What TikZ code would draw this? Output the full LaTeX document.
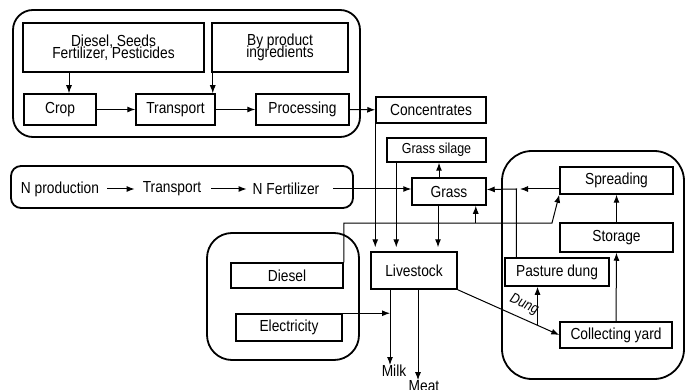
\documentclass[tikz,border=0pt]{standalone}
\usepackage{fontspec}
\setmainfont{Liberation Sans}[FakeStretch=0.86]
\usetikzlibrary{arrows.meta}

\tikzset{
  stage/.style={draw, line width=1.5pt, inner sep=0pt, align=center},
  label/.style={inner sep=0pt},
  group/.style={line width=1.8pt, rounded corners=#1},
  flow/.style={line width=1pt, -{Latex[length=8pt,width=6pt]}},
  feed/.style={flow, shorten >=4pt}
}

\begin{document}
\begin{tikzpicture}[x=1pt, y=-1pt, font=\fontsize{16}{15}\selectfont]
\useasboundingbox (0,0) rectangle (685,390);

% groups
\draw[group=20pt] (13,10) rectangle (360,137);
\draw[group=10pt] (11,166) rectangle (353,208);
\draw[group=25pt] (207,233) rectangle (359,360);
\draw[group=30pt] (502,151) rectangle (684,379);

% feed production
\node[stage, minimum width=181, minimum height=49] (inputs) at (113.5,47.5) {Diesel, Seeds\\[-3pt]Fertilizer, Pesticides};
\node[stage, minimum width=136, minimum height=49] (byprod) at (280,47.5) {By product\\[-3pt]ingredients};
\node[stage, minimum width=72, minimum height=31] (crop) at (60,109.5) {Crop};
\node[stage, minimum width=79, minimum height=31] (transport) at (175.5,109.5) {Transport};
\node[stage, minimum width=93, minimum height=31] (processing) at (302.5,109.5) {Processing};
\node[stage, minimum width=110, minimum height=26] (conc) at (431,110) {Concentrates};

% fertilizer chain
\node[label] (nprod) at (60,189) {N production};
\node[label] (ntrans) at (172,189) {Transport};
\node[label] (nfert) at (286,189) {N Fertilizer};

% farm
\node[stage, minimum width=99, minimum height=24, font=\fontsize{14.5}{14}\selectfont] (silage) at (436.5,150) {Grass silage};
\node[stage, minimum width=74, minimum height=27] (grass) at (449,191.5) {Grass};
\node[stage, minimum width=86, minimum height=37] (livestock) at (414,270.5) {Livestock};
\node[stage, minimum width=112, minimum height=25] (diesel) at (287,275.5) {Diesel};
\node[stage, minimum width=106, minimum height=27] (elec) at (289,327.5) {Electricity};
\node[label] (milk) at (394,371) {Milk};
\node[label] (meat) at (424,386) {Meat};

% manure handling
\node[stage, minimum width=113, minimum height=27] (spread) at (616.5,180.5) {Spreading};
\node[stage, minimum width=113, minimum height=29] (storage) at (616.5,237.5) {Storage};
\node[stage, minimum width=104, minimum height=28] (pasture) at (557,272) {Pasture dung};
\node[stage, minimum width=112, minimum height=26] (yard) at (616,335) {Collecting yard};

\coordinate (kink) at (552,223);
\coordinate (join) at (517,189);
\coordinate (milkline) at ([xshift=-24pt]livestock.south);
\coordinate (meatline) at ([xshift=4pt]livestock.south);

% arrows, top group
\draw[flow] ([xshift=9pt]crop.north |- inputs.south) -- ([xshift=9pt]crop.north);
\draw[flow] ([xshift=-3pt]transport.north east |- byprod.south) -- ([xshift=-3pt]transport.north east);
\draw[flow] (crop) -- (transport);
\draw[flow] (transport) -- (processing);
\draw[flow] (processing) -- (conc);

% N fertilizer row
\draw[flow] ([xshift=8pt]nprod.east) -- ([xshift=-8pt]ntrans.west);
\draw[flow] ([xshift=10pt]ntrans.east) -- ([xshift=-6pt]nfert.west);
\draw[flow] ([xshift=14pt]nfert.east) -- (nfert.east -| grass.west);

% feeding
\draw[flow] ([xshift=-10pt]grass.north) -- ([xshift=-10pt]grass.north |- silage.south);
\draw[feed] (conc.south west) -- (conc.south west |- livestock.north);
\draw[feed] ([xshift=10pt]silage.south west) -- ([xshift=10pt]silage.south west |- livestock.north);
\draw[feed] ([xshift=-11pt]grass.south) -- ([xshift=-11pt]grass.south |- livestock.north);

% diesel
\draw[flow] (diesel.north east) |- (kink) -- (spread.south west);
\draw[flow] ([xshift=-11pt]grass.south east |- kink) -- ([xshift=-11pt]grass.south east);

% products
\draw[flow] (milkline) -- (milkline |- milk.north);
\draw[flow] (meatline) -- (meatline |- meat.north);
\draw[flow] (elec.north east) -- (elec.north east -| milkline);

% dung
\draw[flow] (livestock.south east) -- coordinate[pos=0.786] (dung)
  node[pos=0.6, sloped, above=3pt, font=\fontsize{14.5}{14}\selectfont\itshape] {Dung} (yard.west);
\draw[flow] (dung) -- (dung |- pasture.south);
\draw[flow] (yard.north) -- (storage.south);
\draw[flow] (storage.north) -- (spread.south);
\draw[flow] ([xshift=12pt]pasture.north west) |- (join) -- ([yshift=2pt]grass.east);
\draw[flow] ([yshift=-8.5pt]spread.west) -- ([xshift=3pt]join);
\end{tikzpicture}
\end{document}
